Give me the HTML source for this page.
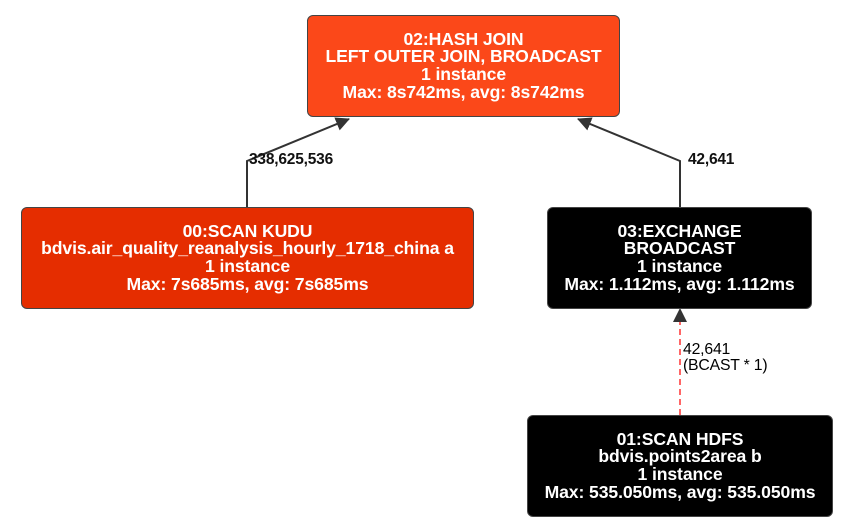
<!DOCTYPE html>
<html><head><style>
body{margin:0;width:848px;height:526px;background:#fff;position:relative;font-family:"Liberation Sans",Arial,sans-serif;overflow:hidden}
.n{position:absolute;box-sizing:border-box;border-radius:6px;border:1px solid #444;color:#fff;font-weight:bold;font-size:17.6px;line-height:17.6px;text-align:center;display:flex;flex-direction:column;justify-content:center;letter-spacing:-0.1px}
.l{position:absolute;font-size:15.5px;font-weight:bold;color:#111;line-height:16px;letter-spacing:-0.2px}
svg{position:absolute;left:0;top:0}
</style></head><body>
<svg width="848" height="526">
<defs><marker id="b" markerWidth="14" markerHeight="14" refX="13" refY="7" orient="auto" markerUnits="userSpaceOnUse"><path d="M0,0L14,7L0,14z" fill="#333"/></marker></defs>
<polyline points="247,207 247,161 349,119" fill="none" stroke="#333" stroke-width="2" marker-end="url(#b)"/>
<polyline points="680,207 680,161 578,119" fill="none" stroke="#333" stroke-width="2" marker-end="url(#b)"/>
<line x1="680" y1="415" x2="680" y2="318" stroke="#f66" stroke-width="2" stroke-dasharray="6,4"/>
<path d="M673,322L680,308L687,322z" fill="#333"/>
</svg>
<div class="n" style="left:307px;top:15px;width:313px;height:102px;background:#fb4819">02:HASH JOIN<br>LEFT OUTER JOIN, BROADCAST<br>1 instance<br>Max: 8s742ms, avg: 8s742ms</div>
<div class="n" style="left:21px;top:207px;width:453px;height:102px;background:#e52d00">00:SCAN KUDU<br>bdvis.air_quality_reanalysis_hourly_1718_china a<br>1 instance<br>Max: 7s685ms, avg: 7s685ms</div>
<div class="n" style="left:547px;top:207px;width:265px;height:102px;background:#000">03:EXCHANGE<br>BROADCAST<br>1 instance<br>Max: 1.112ms, avg: 1.112ms</div>
<div class="n" style="left:527px;top:415px;width:306px;height:102px;background:#000">01:SCAN HDFS<br>bdvis.points2area b<br>1 instance<br>Max: 535.050ms, avg: 535.050ms</div>
<div class="l" style="left:249px;top:152px">338,625,536</div>
<div class="l" style="left:688px;top:152px">42,641</div>
<div class="l" style="left:683px;top:342px;font-weight:normal;color:#000;font-size:15.8px">42,641<br>(BCAST * 1)</div>
</body></html>
